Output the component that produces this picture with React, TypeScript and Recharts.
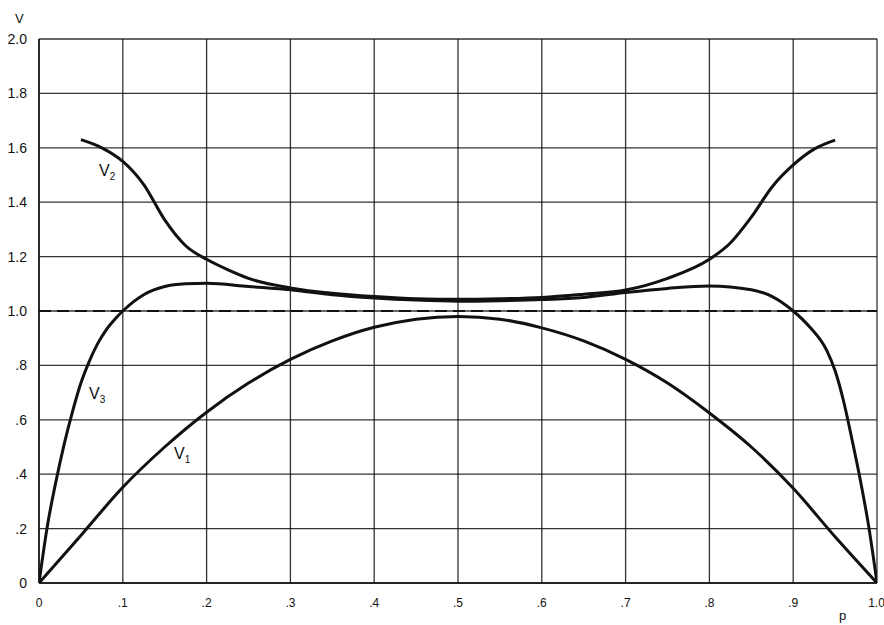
import { LineChart, Line, XAxis, YAxis, CartesianGrid, ReferenceLine } from "recharts";

// V1 — lower arch
const pV1 = [0, 0.05, 0.1, 0.15, 0.2, 0.25, 0.3, 0.35, 0.4, 0.45, 0.5, 0.55, 0.6, 0.65, 0.7, 0.75, 0.8, 0.85, 0.9, 0.95, 1];
const v1 = [0, 0.175, 0.352, 0.5, 0.628, 0.735, 0.822, 0.89, 0.94, 0.97, 0.98, 0.97, 0.938, 0.89, 0.822, 0.735, 0.625, 0.5, 0.348, 0.17, 0];

// V2 — upper saddle, only drawn from .05 to .95
const pV2 = [0.05, 0.075, 0.1, 0.125, 0.15, 0.175, 0.2, 0.225, 0.25, 0.3, 0.35, 0.4, 0.45, 0.5, 0.55, 0.6, 0.65, 0.7, 0.75, 0.8, 0.825, 0.85, 0.875, 0.9, 0.925, 0.95];
const v2 = [1.63, 1.6, 1.55, 1.465, 1.335, 1.24, 1.19, 1.152, 1.12, 1.085, 1.065, 1.053, 1.045, 1.043, 1.045, 1.05, 1.062, 1.077, 1.12, 1.19, 1.25, 1.345, 1.457, 1.537, 1.595, 1.628];

// V3 — steep rise, plateau, steep fall
const pV3 = [0, 0.01, 0.02, 0.03, 0.04, 0.05, 0.06, 0.07, 0.08, 0.09, 0.1, 0.125, 0.15, 0.175, 0.2, 0.25, 0.3, 0.35, 0.4, 0.45, 0.5, 0.55, 0.6, 0.65, 0.7, 0.75, 0.8, 0.85, 0.875, 0.9, 0.92, 0.94, 0.95, 0.96, 0.97, 0.98, 0.99, 1];
const v3 = [0, 0.21, 0.37, 0.51, 0.63, 0.735, 0.815, 0.88, 0.93, 0.968, 1.0, 1.06, 1.09, 1.1, 1.102, 1.09, 1.078, 1.06, 1.048, 1.04, 1.036, 1.038, 1.042, 1.05, 1.068, 1.083, 1.092, 1.078, 1.053, 1.0, 0.94, 0.855, 0.78, 0.67, 0.53, 0.38, 0.21, 0];

const xTicks = [0, 0.1, 0.2, 0.3, 0.4, 0.5, 0.6, 0.7, 0.8, 0.9, 1];
const xTickLabels = ["0", ".1", ".2", ".3", ".4", ".5", ".6", ".7", ".8", ".9", "1.0"];
const yTicks = [0, 0.2, 0.4, 0.6, 0.8, 1, 1.2, 1.4, 1.6, 1.8, 2];
const yTickLabels = ["0", ".2", ".4", ".6", ".8", "1.0", "1.2", "1.4", "1.6", "1.8", "2.0"];
const unityLevel = 1;

const toPoints = (ps: number[], vs: number[]) => ps.map((p, i) => ({ p, v: vs[i] }));

const INK = "#111";
const FONT = "'Liberation Sans', Arial, sans-serif";

function CurveLabel({ x, y, sub }: { x: number; y: number; sub: string }) {
  return (
    <span style={{ position: "absolute", left: x, top: y, fontSize: 16, lineHeight: 1, color: INK }}>
      V<sub style={{ fontSize: 10 }}>{sub}</sub>
    </span>
  );
}

export default function App() {
  return (
    <div style={{ position: "absolute", left: 0, top: 0, width: 884, height: 625, background: "#fff", fontFamily: FONT }}>
      <LineChart width={884} height={625} margin={{ top: 39, right: 7, bottom: 0, left: 0 }}>
        <CartesianGrid stroke={INK} strokeWidth={1.3} strokeOpacity={0.85} />
        <XAxis
          type="number"
          dataKey="p"
          domain={[0, 1]}
          ticks={xTicks}
          tickFormatter={(_, i) => xTickLabels[i]}
          tickLine={false}
          tickMargin={9}
          height={42}
          axisLine={{ stroke: INK, strokeWidth: 1.5 }}
          tick={{ fill: INK, fontSize: 12, fontFamily: FONT }}
          allowDataOverflow
        />
        <YAxis
          type="number"
          domain={[0, 2]}
          ticks={yTicks}
          tickFormatter={(_, i) => yTickLabels[i]}
          tickLine={false}
          tickMargin={6}
          width={39}
          axisLine={{ stroke: INK, strokeWidth: 1.5 }}
          tick={{ fill: INK, fontSize: 14, fontFamily: FONT }}
          allowDataOverflow
        />
        <ReferenceLine y={unityLevel} stroke={INK} strokeWidth={2} strokeDasharray="12 6" />
        <Line data={toPoints(pV1, v1)} dataKey="v" type="monotone" stroke={INK} strokeWidth={3} dot={false} isAnimationActive={false} />
        <Line data={toPoints(pV2, v2)} dataKey="v" type="monotone" stroke={INK} strokeWidth={3} dot={false} isAnimationActive={false} />
        <Line data={toPoints(pV3, v3)} dataKey="v" type="monotone" stroke={INK} strokeWidth={3} dot={false} isAnimationActive={false} />
      </LineChart>
      <span style={{ position: "absolute", left: 15, top: 12, fontSize: 13, lineHeight: 1, color: INK }}>V</span>
      <span style={{ position: "absolute", left: 839, top: 609, fontSize: 13, lineHeight: 1, color: INK }}>p</span>
      <CurveLabel x={99} y={163} sub="2" />
      <CurveLabel x={89} y={386} sub="3" />
      <CurveLabel x={174} y={446} sub="1" />
    </div>
  );
}
